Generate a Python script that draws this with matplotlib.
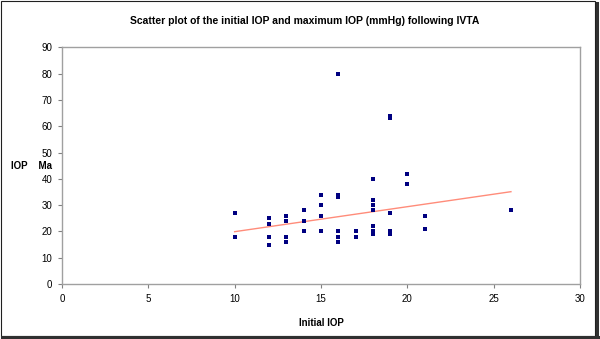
import numpy as np
import matplotlib
matplotlib.use("Agg")
from matplotlib import pyplot as plt
from matplotlib.patches import Rectangle
from matplotlib.lines import Line2D

plt.rcParams['font.family'] = ['Liberation Sans', 'DejaVu Sans']

# initial IOP and the maximum IOP (one list per column)
initial_iop = [10, 10, 10,
               12, 12, 12, 12,
               13, 13, 13, 13,
               14, 14, 14, 14,
               15, 15, 15, 15, 15,
               16, 16, 16, 16, 16, 16,
               17, 17,
               18, 18, 18, 18, 18, 18, 18, 18,
               19, 19, 19, 19, 19,
               20, 20,
               21, 21,
               26]
max_iop = [27, 18, 18,
           25, 23, 18, 15,
           26, 24, 18, 16,
           28, 28, 24, 20,
           34, 34, 30, 26, 20,
           80, 34, 33, 20, 18, 16,
           20, 18,
           40, 40, 32, 30, 28, 22, 20, 19,
           64, 63, 27, 20, 19,
           42, 38,
           26, 21,
           28]

# trendline as drawn in the original (slope / intercept)
trend_slope = 0.95
trend_intercept = 10.4

x_ticks = [0, 5, 10, 15, 20, 25, 30]
y_ticks = [0, 10, 20, 30, 40, 50, 60, 70, 80, 90]

fig = plt.figure(figsize=(6, 3.39), dpi=100)
ax = fig.add_axes([0.1033, 0.1622, 0.8634, 0.6983])

ax.scatter(initial_iop, max_iop, marker='s', s=5, color='#000080',
           linewidths=0, zorder=3)

xs = np.array([min(initial_iop), max(initial_iop)])
ax.plot(xs, trend_slope * xs + trend_intercept, color='#FF8C7A', lw=1.0, zorder=2)

ax.set_xlim(0, 30)
ax.set_ylim(0, 90)
ax.set_xticks(x_ticks)
ax.set_yticks(y_ticks)
ax.tick_params(labelsize=7, length=3, width=0.8, color='#808080', pad=4)

for s in ax.spines.values():
    s.set_color('#A0A0A0')
    s.set_linewidth(1.0)

ax.set_xlabel('Initial IOP', fontsize=7, fontweight='bold', labelpad=10)
fig.text(0.018, 0.51, 'IOP    Ma', fontsize=7, fontweight='bold',
         ha='left', va='center')

fig.text(0.508, 0.937, 'Scatter plot of the initial IOP and maximum IOP (mmHg) following IVTA',
         fontsize=7.5, fontweight='bold', ha='center', va='center')

# outer frame with a shadow on the right and bottom
fig.add_artist(Rectangle((0.002, 0.008), 0.99, 0.988, transform=fig.transFigure,
                         fill=False, edgecolor='#202020', lw=0.8))
fig.add_artist(Line2D([0.9945, 0.9945], [0.0, 0.99], transform=fig.transFigure,
                      color='#303030', lw=2.2))
fig.add_artist(Line2D([0.004, 0.997], [0.0045, 0.0045], transform=fig.transFigure,
                      color='#303030', lw=2.2))

fig.savefig('out.png', dpi=100)
